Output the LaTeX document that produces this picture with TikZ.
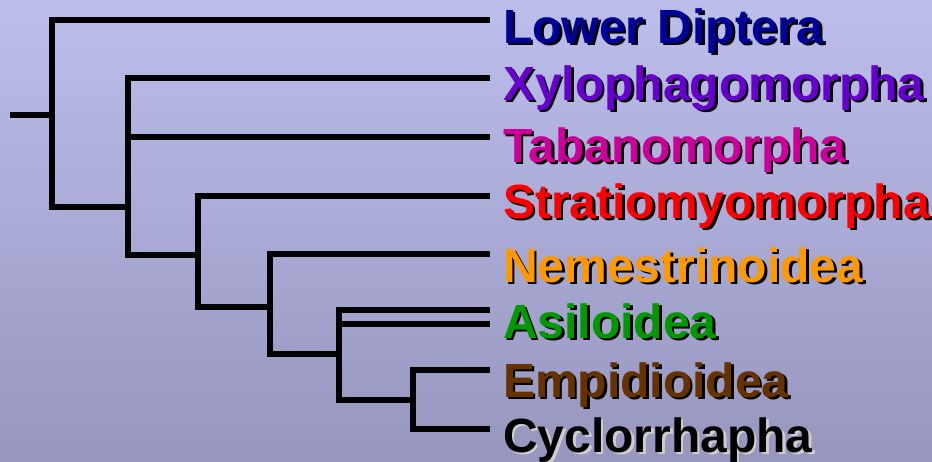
\documentclass[tikz,border=0pt]{standalone}
\usepackage{fontspec}
\setmainfont{Liberation Sans}
\definecolor{bgtop}{RGB}{188,190,236}
\definecolor{bgbottom}{RGB}{150,150,190}
\definecolor{lowerdip}{RGB}{0,0,153}
\definecolor{xylo}{RGB}{102,0,204}
\definecolor{tabano}{RGB}{204,0,153}
\definecolor{stratio}{RGB}{255,0,0}
\definecolor{nemes}{RGB}{255,153,0}
\definecolor{asilo}{RGB}{0,153,0}
\definecolor{empido}{RGB}{102,51,0}
\definecolor{cyclo}{RGB}{0,0,0}
\definecolor{lightshadow}{RGB}{205,205,205}

\begin{document}
\begin{tikzpicture}[x=1pt, y=-1pt,
    branch/.style={line width=5.5pt, line join=miter},
    taxon/.style={anchor=base west, inner sep=0pt, font=\fontsize{48}{50}\selectfont\bfseries},
    shadow/.style={taxon, text=black}]
      \shade[top color=bgtop, bottom color=bgbottom] (0,0) rectangle (932,461);
      \useasboundingbox (0,0) rectangle (932,461);

      % internal nodes of the tree
      \coordinate (root) at (10,115);
      \coordinate (n1) at (52,115);
      \coordinate (n2) at (128,207);
      \coordinate (n3) at (198,255);
      \coordinate (n4) at (270,307);
      \coordinate (n5) at (339,354);
      \coordinate (n6) at (413,400);

      % tips
      \coordinate (ld) at (490,20);
      \coordinate (xy) at (490,78);
      \coordinate (ta) at (490,137);
      \coordinate (st) at (490,196);
      \coordinate (ne) at (490,254);
      \coordinate (as1) at (490,310);
      \coordinate (as2) at (490,324);
      \coordinate (em) at (490,370);
      \coordinate (cy) at (490,429);

      \draw[branch] (root) -- (n1);
      \draw[branch] (n1) |- (ld);
      \draw[branch] (n1) |- (n2);
      \draw[branch] (n2) |- (xy);
      \draw[branch] (n2) |- (ta);
      \draw[branch] (n2) |- (n3);
      \draw[branch] (n3) |- (st);
      \draw[branch] (n3) |- (n4);
      \draw[branch] (n4) |- (ne);
      \draw[branch] (n4) |- (n5);
      \draw[branch] (n5) |- (as1);
      \draw[branch] (n5) |- (as2);
      \draw[branch] (n5) |- (n6);
      \draw[branch] (n6) |- (em);
      \draw[branch] (n6) |- (cy);

      % labels with their drop shadows
      \node[shadow] (ld-sh) at (505.5,45.5) {Lower Diptera};
      \node[taxon, text=lowerdip] (ld-txt) at (503,43) {Lower Diptera};
      \node[shadow] (xy-sh) at (505.5,102.5) {Xylophagomorpha};
      \node[taxon, text=xylo] (xy-txt) at (503,100) {Xylophagomorpha};
      \node[shadow] (ta-sh) at (505.5,164.5) {Tabanomorpha};
      \node[taxon, text=tabano] (ta-txt) at (503,162) {Tabanomorpha};
      \node[shadow] (st-sh) at (505.5,220.5) {Stratiomyomorpha};
      \node[taxon, text=stratio] (st-txt) at (503,218) {Stratiomyomorpha};
      \node[shadow] (ne-sh) at (505.5,284.5) {Nemestrinoidea};
      \node[taxon, text=nemes] (ne-txt) at (503,282) {Nemestrinoidea};
      \node[shadow] (as-sh) at (505.5,340.5) {Asiloidea};
      \node[taxon, text=asilo] (as-txt) at (503,338) {Asiloidea};
      \node[shadow] (em-sh) at (505.5,399.5) {Empidioidea};
      \node[taxon, text=empido] (em-txt) at (503,397) {Empidioidea};
      \node[shadow, text=lightshadow] (cy-sh) at (505.5,454.5) {Cyclorrhapha};
      \node[taxon, text=cyclo] (cy-txt) at (503,452) {Cyclorrhapha};
    \end{tikzpicture}
\end{document}
